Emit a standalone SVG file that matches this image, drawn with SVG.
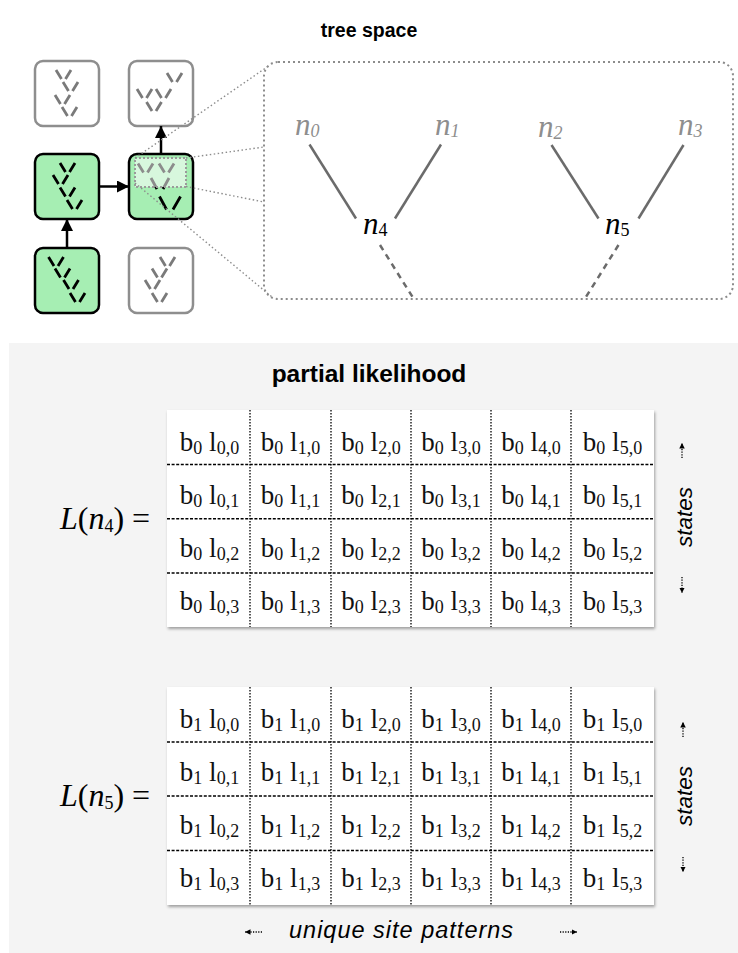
<svg xmlns="http://www.w3.org/2000/svg" xmlns:xlink="http://www.w3.org/1999/xlink" width="738" height="953" viewBox="0 0 738 953">
<style>
.title{font-family:"Liberation Sans",Arial,Helvetica,sans-serif;font-weight:bold;fill:#000}
.t1{font-size:19.5px}
.t2{font-size:24.5px}
.cell{font-family:"Liberation Serif","Times New Roman",serif;font-size:27px;fill:#111}
.sub{font-size:18px}
.lab{font-family:"Liberation Serif","Times New Roman",serif;font-style:italic;font-size:31px}
.leaf{fill:#8e8e8e}
.inner{fill:#000}
.eq{font-family:"Liberation Serif","Times New Roman",serif;font-size:32px;fill:#000}
.axis{font-family:"Liberation Sans",Arial,sans-serif;font-style:italic;font-size:22.5px;fill:#000}
.axisb{font-size:23.5px;letter-spacing:1px}
.gbox{fill:#a6eeb3;stroke:#000;stroke-width:2.5}
.wbox{fill:#fff;stroke:#8e8e8e;stroke-width:2.5}
.vk{fill:none;stroke:#000;stroke-width:2.8}
.vg{fill:none;stroke:#7a7a7a;stroke-width:2.8}
.arrow{fill:none;stroke:#000;stroke-width:2.5}
.zoomline{fill:none;stroke:#8c8c8c;stroke-width:1.4;stroke-dasharray:1.5 2.5}
.edge{fill:none;stroke:#6b6b6b;stroke-width:2.5}
.dedge{fill:none;stroke:#6b6b6b;stroke-width:2.5;stroke-dasharray:6 5}
.tbl{fill:#fff;filter:url(#sh)}
.vl{stroke:#000;stroke-width:1.3;stroke-dasharray:1.5 1.5}
.hl{stroke:#000;stroke-width:1.3;stroke-dasharray:3 1.6}
.sa{fill:none;stroke:#000;stroke-width:1.3;stroke-dasharray:1.2 1.4}
</style>
<defs>
<marker id="ah" viewBox="0 0 10 10" refX="10" refY="5" markerWidth="12" markerHeight="12" markerUnits="userSpaceOnUse" orient="auto">
<path d="M0,0 L10,5 L0,10 z" fill="#000"/>
</marker>
<marker id="sah" viewBox="0 0 6 6" refX="6" refY="3" markerWidth="5.5" markerHeight="5.5" markerUnits="userSpaceOnUse" orient="auto">
<path d="M0,0 L6,3 L0,6 z" fill="#000"/>
</marker>
<path id="v" d="M0,0 L5.5,9 M15,0 L9.5,9"/>
<filter id="sh" x="-5%" y="-5%" width="112%" height="115%">
<feDropShadow dx="1" dy="2" stdDeviation="1.6" flood-color="#000" flood-opacity="0.35"/>
</filter>
</defs>

<rect x="0" y="0" width="738" height="953" fill="#fff"/>
<text class="title t1" x="369" y="37" text-anchor="middle">tree space</text>

<g id="tree-a">
<rect class="wbox" x="35" y="61" width="64" height="65" rx="8"/>
<use href="#v" class="vg" x="56" y="70"/>
<use href="#v" class="vg" x="63" y="82"/>
<use href="#v" class="vg" x="55" y="95"/>
<use href="#v" class="vg" x="62" y="107"/>
</g>
<g id="tree-b">
<rect class="wbox" x="129" y="61" width="64" height="65" rx="8"/>
<use href="#v" class="vg" x="137" y="89"/>
<use href="#v" class="vg" x="156" y="89"/>
<use href="#v" class="vg" x="167" y="73"/>
<use href="#v" class="vg" x="146.5" y="102"/>
</g>
<g id="tree-c">
<rect class="gbox" x="35" y="154" width="64" height="65" rx="8"/>
<use href="#v" class="vk" x="60" y="163"/>
<use href="#v" class="vk" x="53" y="175"/>
<use href="#v" class="vk" x="60" y="187.5"/>
<use href="#v" class="vk" x="67" y="200"/>
</g>
<g id="tree-d">
<rect class="gbox" x="129" y="154" width="64" height="65" rx="8"/>
<use href="#v" class="vk" x="138" y="163.5"/>
<use href="#v" class="vk" x="159" y="163.5"/>
<path class="vk" d="M151,178 L157,189 M169,178 L163,189"/>
<path class="vk" d="M159.5,196.5 L166.5,209.5 M180.5,196.5 L173,209.5"/>
<rect x="135" y="158" width="51" height="29" fill="#fff" fill-opacity="0.55" stroke="#9a9a9a" stroke-width="2" stroke-dasharray="2 2"/>
</g>
<g id="tree-e">
<rect class="gbox" x="35" y="248" width="64" height="65" rx="8"/>
<use href="#v" class="vk" x="48.5" y="257"/>
<use href="#v" class="vk" x="55" y="268.5"/>
<use href="#v" class="vk" x="63.5" y="280"/>
<use href="#v" class="vk" x="70" y="293"/>
</g>
<g id="tree-f">
<rect class="wbox" x="129" y="248" width="64" height="65" rx="8"/>
<use href="#v" class="vg" x="160" y="257"/>
<use href="#v" class="vg" x="152" y="268.5"/>
<use href="#v" class="vg" x="145" y="280"/>
<use href="#v" class="vg" x="152" y="293"/>
</g>

<g id="zoom-box">
<rect x="264" y="62" width="469" height="237" rx="14" fill="none" stroke="#8c8c8c" stroke-width="2" stroke-dasharray="2 3"/>
</g>

<g id="connectors">
<path class="arrow" d="M67,248 L67,219" marker-end="url(#ah)"/>
<path class="arrow" d="M99,186.5 L129,186.5" marker-end="url(#ah)"/>
<path class="arrow" d="M161,154 L161,126" marker-end="url(#ah)"/>
<path class="zoomline" d="M135,158 L270,65"/>
<path class="zoomline" d="M186,158 L264,147"/>
<path class="zoomline" d="M186,186.5 L264,202"/>
<path class="zoomline" d="M135,183 L272,297"/>
<path class="edge" d="M309.5,144.5 L356,218.5"/>
<path class="edge" d="M441,144.5 L395,218.5"/>
<path class="edge" d="M551.5,145 L598.5,218.5"/>
<path class="edge" d="M683.5,145 L638.5,218.5"/>
<path class="dedge" d="M380,245 L413.5,298.5"/>
<path class="dedge" d="M618.5,245 L585,298.5"/>
</g>

<g id="n0"><text class="lab leaf" x="295" y="135">n<tspan class="sub" dy="2">0</tspan></text></g>
<g id="n1"><text class="lab leaf" x="435" y="135">n<tspan class="sub" dy="2">1</tspan></text></g>
<g id="n2"><text class="lab leaf" x="538" y="137">n<tspan class="sub" dy="2">2</tspan></text></g>
<g id="n3"><text class="lab leaf" x="678" y="135">n<tspan class="sub" dy="2">3</tspan></text></g>
<g id="n4"><text class="lab inner" x="363" y="234">n<tspan class="sub" font-style="normal" dy="2">4</tspan></text></g>
<g id="n5"><text class="lab inner" x="605" y="234">n<tspan class="sub" font-style="normal" dy="2">5</tspan></text></g>

<g id="panel">
<rect x="9" y="343" width="729" height="610" fill="#f4f4f4"/>
<text class="title t2" x="369" y="382" text-anchor="middle">partial likelihood</text>
</g>

<g id="table-n4">
<text class="eq" x="60" y="529"><tspan font-style="italic">L</tspan>(<tspan font-style="italic">n</tspan><tspan class="sub" dy="3">4</tspan><tspan dy="-3">) =</tspan></text>
<rect class="tbl" x="167" y="410" width="487" height="217"/>
<g>
<line class="vl" x1="250" y1="410" x2="250" y2="627"/>
<line class="vl" x1="331" y1="410" x2="331" y2="627"/>
<line class="vl" x1="411" y1="410" x2="411" y2="627"/>
<line class="vl" x1="491" y1="410" x2="491" y2="627"/>
<line class="vl" x1="571" y1="410" x2="571" y2="627"/>
<line class="hl" x1="167" y1="464.5" x2="654" y2="464.5"/>
<line class="hl" x1="167" y1="518.75" x2="654" y2="518.75"/>
<line class="hl" x1="167" y1="573" x2="654" y2="573"/>
</g>
<g class="cell" text-anchor="middle">
<text x="209.5" y="451">b<tspan class="sub" dy="3">0</tspan><tspan dy="-3"> l</tspan><tspan class="sub" dy="3">0,0</tspan></text>
<text x="290.5" y="451">b<tspan class="sub" dy="3">0</tspan><tspan dy="-3"> l</tspan><tspan class="sub" dy="3">1,0</tspan></text>
<text x="371" y="451">b<tspan class="sub" dy="3">0</tspan><tspan dy="-3"> l</tspan><tspan class="sub" dy="3">2,0</tspan></text>
<text x="451" y="451">b<tspan class="sub" dy="3">0</tspan><tspan dy="-3"> l</tspan><tspan class="sub" dy="3">3,0</tspan></text>
<text x="531" y="451">b<tspan class="sub" dy="3">0</tspan><tspan dy="-3"> l</tspan><tspan class="sub" dy="3">4,0</tspan></text>
<text x="612.5" y="451">b<tspan class="sub" dy="3">0</tspan><tspan dy="-3"> l</tspan><tspan class="sub" dy="3">5,0</tspan></text>
<text x="209.5" y="504">b<tspan class="sub" dy="3">0</tspan><tspan dy="-3"> l</tspan><tspan class="sub" dy="3">0,1</tspan></text>
<text x="290.5" y="504">b<tspan class="sub" dy="3">0</tspan><tspan dy="-3"> l</tspan><tspan class="sub" dy="3">1,1</tspan></text>
<text x="371" y="504">b<tspan class="sub" dy="3">0</tspan><tspan dy="-3"> l</tspan><tspan class="sub" dy="3">2,1</tspan></text>
<text x="451" y="504">b<tspan class="sub" dy="3">0</tspan><tspan dy="-3"> l</tspan><tspan class="sub" dy="3">3,1</tspan></text>
<text x="531" y="504">b<tspan class="sub" dy="3">0</tspan><tspan dy="-3"> l</tspan><tspan class="sub" dy="3">4,1</tspan></text>
<text x="612.5" y="504">b<tspan class="sub" dy="3">0</tspan><tspan dy="-3"> l</tspan><tspan class="sub" dy="3">5,1</tspan></text>
<text x="209.5" y="557">b<tspan class="sub" dy="3">0</tspan><tspan dy="-3"> l</tspan><tspan class="sub" dy="3">0,2</tspan></text>
<text x="290.5" y="557">b<tspan class="sub" dy="3">0</tspan><tspan dy="-3"> l</tspan><tspan class="sub" dy="3">1,2</tspan></text>
<text x="371" y="557">b<tspan class="sub" dy="3">0</tspan><tspan dy="-3"> l</tspan><tspan class="sub" dy="3">2,2</tspan></text>
<text x="451" y="557">b<tspan class="sub" dy="3">0</tspan><tspan dy="-3"> l</tspan><tspan class="sub" dy="3">3,2</tspan></text>
<text x="531" y="557">b<tspan class="sub" dy="3">0</tspan><tspan dy="-3"> l</tspan><tspan class="sub" dy="3">4,2</tspan></text>
<text x="612.5" y="557">b<tspan class="sub" dy="3">0</tspan><tspan dy="-3"> l</tspan><tspan class="sub" dy="3">5,2</tspan></text>
<text x="209.5" y="610">b<tspan class="sub" dy="3">0</tspan><tspan dy="-3"> l</tspan><tspan class="sub" dy="3">0,3</tspan></text>
<text x="290.5" y="610">b<tspan class="sub" dy="3">0</tspan><tspan dy="-3"> l</tspan><tspan class="sub" dy="3">1,3</tspan></text>
<text x="371" y="610">b<tspan class="sub" dy="3">0</tspan><tspan dy="-3"> l</tspan><tspan class="sub" dy="3">2,3</tspan></text>
<text x="451" y="610">b<tspan class="sub" dy="3">0</tspan><tspan dy="-3"> l</tspan><tspan class="sub" dy="3">3,3</tspan></text>
<text x="531" y="610">b<tspan class="sub" dy="3">0</tspan><tspan dy="-3"> l</tspan><tspan class="sub" dy="3">4,3</tspan></text>
<text x="612.5" y="610">b<tspan class="sub" dy="3">0</tspan><tspan dy="-3"> l</tspan><tspan class="sub" dy="3">5,3</tspan></text>
</g>
<path class="sa" d="M682,458 L682,443" marker-end="url(#sah)"/>
<path class="sa" d="M682,577 L682,593" marker-end="url(#sah)"/>
<text class="axis" transform="translate(692,517) rotate(-90)" text-anchor="middle">states</text>
</g>

<g id="table-n5">
<text class="eq" x="60" y="806"><tspan font-style="italic">L</tspan>(<tspan font-style="italic">n</tspan><tspan class="sub" dy="3">5</tspan><tspan dy="-3">) =</tspan></text>
<rect class="tbl" x="167" y="687" width="487" height="218"/>
<g>
<line class="vl" x1="250" y1="687" x2="250" y2="905"/>
<line class="vl" x1="331" y1="687" x2="331" y2="905"/>
<line class="vl" x1="411" y1="687" x2="411" y2="905"/>
<line class="vl" x1="491" y1="687" x2="491" y2="905"/>
<line class="vl" x1="571" y1="687" x2="571" y2="905"/>
<line class="hl" x1="167" y1="742" x2="654" y2="742"/>
<line class="hl" x1="167" y1="796" x2="654" y2="796"/>
<line class="hl" x1="167" y1="850.5" x2="654" y2="850.5"/>
</g>
<g class="cell" text-anchor="middle">
<text x="209.5" y="728">b<tspan class="sub" dy="3">1</tspan><tspan dy="-3"> l</tspan><tspan class="sub" dy="3">0,0</tspan></text>
<text x="290.5" y="728">b<tspan class="sub" dy="3">1</tspan><tspan dy="-3"> l</tspan><tspan class="sub" dy="3">1,0</tspan></text>
<text x="371" y="728">b<tspan class="sub" dy="3">1</tspan><tspan dy="-3"> l</tspan><tspan class="sub" dy="3">2,0</tspan></text>
<text x="451" y="728">b<tspan class="sub" dy="3">1</tspan><tspan dy="-3"> l</tspan><tspan class="sub" dy="3">3,0</tspan></text>
<text x="531" y="728">b<tspan class="sub" dy="3">1</tspan><tspan dy="-3"> l</tspan><tspan class="sub" dy="3">4,0</tspan></text>
<text x="612.5" y="728">b<tspan class="sub" dy="3">1</tspan><tspan dy="-3"> l</tspan><tspan class="sub" dy="3">5,0</tspan></text>
<text x="209.5" y="781">b<tspan class="sub" dy="3">1</tspan><tspan dy="-3"> l</tspan><tspan class="sub" dy="3">0,1</tspan></text>
<text x="290.5" y="781">b<tspan class="sub" dy="3">1</tspan><tspan dy="-3"> l</tspan><tspan class="sub" dy="3">1,1</tspan></text>
<text x="371" y="781">b<tspan class="sub" dy="3">1</tspan><tspan dy="-3"> l</tspan><tspan class="sub" dy="3">2,1</tspan></text>
<text x="451" y="781">b<tspan class="sub" dy="3">1</tspan><tspan dy="-3"> l</tspan><tspan class="sub" dy="3">3,1</tspan></text>
<text x="531" y="781">b<tspan class="sub" dy="3">1</tspan><tspan dy="-3"> l</tspan><tspan class="sub" dy="3">4,1</tspan></text>
<text x="612.5" y="781">b<tspan class="sub" dy="3">1</tspan><tspan dy="-3"> l</tspan><tspan class="sub" dy="3">5,1</tspan></text>
<text x="209.5" y="834">b<tspan class="sub" dy="3">1</tspan><tspan dy="-3"> l</tspan><tspan class="sub" dy="3">0,2</tspan></text>
<text x="290.5" y="834">b<tspan class="sub" dy="3">1</tspan><tspan dy="-3"> l</tspan><tspan class="sub" dy="3">1,2</tspan></text>
<text x="371" y="834">b<tspan class="sub" dy="3">1</tspan><tspan dy="-3"> l</tspan><tspan class="sub" dy="3">2,2</tspan></text>
<text x="451" y="834">b<tspan class="sub" dy="3">1</tspan><tspan dy="-3"> l</tspan><tspan class="sub" dy="3">3,2</tspan></text>
<text x="531" y="834">b<tspan class="sub" dy="3">1</tspan><tspan dy="-3"> l</tspan><tspan class="sub" dy="3">4,2</tspan></text>
<text x="612.5" y="834">b<tspan class="sub" dy="3">1</tspan><tspan dy="-3"> l</tspan><tspan class="sub" dy="3">5,2</tspan></text>
<text x="209.5" y="887">b<tspan class="sub" dy="3">1</tspan><tspan dy="-3"> l</tspan><tspan class="sub" dy="3">0,3</tspan></text>
<text x="290.5" y="887">b<tspan class="sub" dy="3">1</tspan><tspan dy="-3"> l</tspan><tspan class="sub" dy="3">1,3</tspan></text>
<text x="371" y="887">b<tspan class="sub" dy="3">1</tspan><tspan dy="-3"> l</tspan><tspan class="sub" dy="3">2,3</tspan></text>
<text x="451" y="887">b<tspan class="sub" dy="3">1</tspan><tspan dy="-3"> l</tspan><tspan class="sub" dy="3">3,3</tspan></text>
<text x="531" y="887">b<tspan class="sub" dy="3">1</tspan><tspan dy="-3"> l</tspan><tspan class="sub" dy="3">4,3</tspan></text>
<text x="612.5" y="887">b<tspan class="sub" dy="3">1</tspan><tspan dy="-3"> l</tspan><tspan class="sub" dy="3">5,3</tspan></text>
</g>
<path class="sa" d="M683,737 L683,722" marker-end="url(#sah)"/>
<path class="sa" d="M683,857 L683,872" marker-end="url(#sah)"/>
<text class="axis" transform="translate(692,796) rotate(-90)" text-anchor="middle">states</text>
</g>

<g id="site-axis">
<path class="sa" d="M262,932 L245,932" marker-end="url(#sah)"/>
<text class="axis axisb" x="289" y="938">unique site patterns</text>
<path class="sa" d="M560,932 L577,932" marker-end="url(#sah)"/>
</g>
</svg>
